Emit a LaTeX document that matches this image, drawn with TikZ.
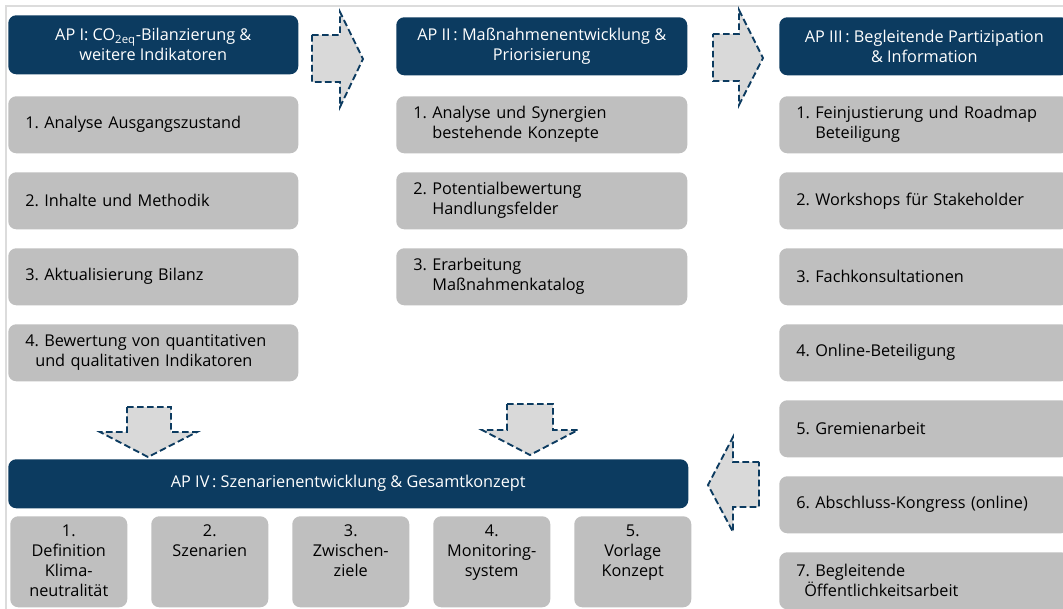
\documentclass[tikz,border=0pt]{standalone}
\usepackage{fontspec}
\setmainfont{Open Sans}
\definecolor{apblue}{RGB}{12,59,96}
\definecolor{boxgrey}{RGB}{191,191,191}
\definecolor{arrowfill}{RGB}{217,217,217}
\definecolor{framegrey}{RGB}{220,220,220}
\tikzset{
  base/.style={font=\fontsize{12.2}{15}\selectfont\frenchspacing, rounded corners=6pt, anchor=north west, inner ysep=0pt},
  headbox/.style={base, fill=apblue, text=white, align=center},
  gbox/.style={base, fill=boxgrey, text=black, align=left, inner xsep=12.75pt, text width=192pt, minimum height=42.75pt},
  bbox/.style={base, fill=boxgrey, text=black, inner xsep=0pt, inner ysep=5pt},
  blockarrow/.style={fill=arrowfill, draw=apblue, line width=1.4pt, dash pattern=on 5pt off 2.5pt},
  framestyle/.style={draw=framegrey, line width=1.2pt}
}
\newcommand{\bottomtext}[1]{\parbox[t][58.25pt][t]{87.75pt}{\centering\strut #1}}
\begin{document}
\begin{tikzpicture}[x=0.75pt,y=-0.75pt]
\useasboundingbox (0,0) rectangle (1063,609);
\draw[framestyle] (6,609) -- (6,6) -- (1063,6);

% headers
\node[headbox, minimum width=217.5pt, minimum height=44.25pt] (h1) at (8,15) {AP I: CO\textsubscript{2eq}-Bilanzierung \&\\weitere Indikatoren};
\node[headbox, minimum width=218.25pt, minimum height=43.5pt] (h2) at (396,17) {AP II\,: Maßnahmenentwicklung \&\\Priorisierung};
\node[headbox, minimum width=217.5pt, minimum height=43.5pt] (h3) at (779,17) {AP III\,: Begleitende Partizipation\\\& Information};
\node[headbox, minimum width=510pt, minimum height=36.75pt] (h4) at (8,459) {AP IV\,: Szenarienentwicklung \& Gesamtkonzept};

% column 1
\node[gbox] (a1) at (8,96) {1. Analyse Ausgangszustand};
\node[gbox] (a2) at (8,172) {2. Inhalte und Methodik};
\node[gbox] (a3) at (8,248) {3. Aktualisierung Bilanz};
\node[gbox] (a4) at (8,324) {4. Bewertung von quantitativen\\\hspace*{7.5pt}und qualitativen Indikatoren};

% column 2
\node[gbox, text width=192.75pt] (m1) at (396,96) {1. Analyse und Synergien\\\phantom{1.\ }bestehende Konzepte};
\node[gbox, text width=192.75pt] (m2) at (396,172) {2. Potentialbewertung\\\phantom{2.\ }Handlungsfelder};
\node[gbox, text width=192.75pt] (m3) at (396,248) {3. Erarbeitung\\\phantom{3.\ }Maßnahmenkatalog};

% column 3
\node[gbox] (p1) at (779,96) {1. Feinjustierung und Roadmap\\\phantom{1.\ }Beteiligung};
\node[gbox] (p2) at (779,172) {2. Workshops für Stakeholder};
\node[gbox] (p3) at (779,248) {3. Fachkonsultationen};
\node[gbox] (p4) at (779,324) {4. Online-Beteiligung};
\node[gbox] (p5) at (779,400) {5. Gremienarbeit};
\node[gbox] (p6) at (779,476) {6. Abschluss-Kongress (online)};
\node[gbox] (p7) at (779,552) {7. Begleitende\\\hspace*{6pt}Öffentlichkeitsarbeit};

% bottom row
\node[bbox] (s1) at (10,516) {\bottomtext{1.\\Definition\\Klima-\\neutralität}};
\node[bbox] (s2) at (151,516) {\bottomtext{2.\\Szenarien}};
\node[bbox] (s3) at (292,516) {\bottomtext{3.\\Zwischen-\\ziele}};
\node[bbox] (s4) at (433,516) {\bottomtext{4.\\Monitoring-\\system}};
\node[bbox] (s5) at (574,516) {\bottomtext{5.\\Vorlage\\Konzept}};

% block arrows
\draw[blockarrow] (312,35) -- (340,35) -- (340,12) -- (363,59) -- (340,107) -- (340,82) -- (312,82) -- cycle;
\draw[blockarrow] (713,34) -- (739,34) -- (739,10) -- (763,58) -- (739,105) -- (739,81) -- (713,81) -- cycle;
\draw[blockarrow] (127,407) -- (171,407) -- (171,432) -- (197,432) -- (148,457) -- (100,432) -- (127,432) -- cycle;
\draw[blockarrow] (507,404) -- (553,404) -- (553,430) -- (578,430) -- (530,455) -- (482,430) -- (507,430) -- cycle;
\draw[blockarrow] (759,462) -- (733,462) -- (733,437) -- (708,485) -- (733,532) -- (733,507) -- (759,507) -- cycle;
\end{tikzpicture}
\end{document}
